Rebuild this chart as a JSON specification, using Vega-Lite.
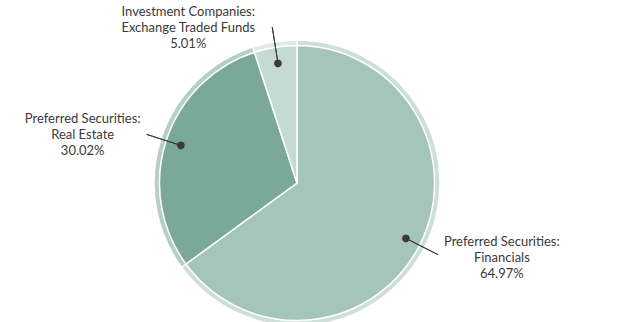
{
  "$schema": "https://vega.github.io/schema/vega-lite/v6.json",
  "width": 594,
  "height": 278,
  "autosize": {"type": "none"},
  "padding": {"left": 0, "top": 44, "right": 24, "bottom": 0},
  "background": "white",
  "config": {"view": {"stroke": null}, "text": {"font": "Lato", "fontSize": 13}},
  "data": {
    "values": [
      {"category": "Preferred Securities: Financials", "name": "Preferred Securities:\nFinancials", "share": 0.6497},
      {"category": "Preferred Securities: Real Estate", "name": "Preferred Securities:\nReal Estate", "share": 0.3002},
      {"category": "Investment Companies: Exchange Traded Funds", "name": "Investment Companies:\nExchange Traded Funds", "share": 0.0501}
    ]
  },
  "transform": [
    {"stack": "share", "groupby": [], "sort": [{"field": "share", "order": "descending"}], "as": ["s0", "s1"]},
    {"fold": ["s0", "s1"], "as": ["edge", "pos"]},
    {"joinaggregate": [{"op": "mean", "field": "pos", "as": "mid"}], "groupby": ["category"]},
    {"filter": "datum.edge == 's0'"}
  ],
  "layer": [
    {
      "mark": {"type": "arc", "innerRadius": 137, "outerRadius": 143, "opacity": 0.55, "stroke": "white", "strokeWidth": 1.5},
      "encoding": {
        "theta": {"field": "s0", "type": "quantitative", "scale": {"domain": [0, 1]}},
        "theta2": {"field": "s1"},
        "color": {"field": "category", "type": "nominal", "legend": null,
          "scale": {"domain": ["Preferred Securities: Financials", "Preferred Securities: Real Estate", "Investment Companies: Exchange Traded Funds"],
                    "range": ["#a6c5ba", "#7aa99a", "#c6dad4"]}}
      }
    },
    {
      "mark": {"type": "arc", "outerRadius": 137.5, "stroke": "white", "strokeWidth": 1.5},
      "encoding": {
        "theta": {"field": "s0", "type": "quantitative", "scale": {"domain": [0, 1]}},
        "theta2": {"field": "s1"},
        "color": {"field": "category", "type": "nominal", "legend": null}
      }
    },
    {
      "mark": {"type": "arc", "innerRadius": 123, "outerRadius": 158, "stroke": "#3a3a3a", "strokeWidth": 1, "fill": null},
      "encoding": {
        "theta": {"field": "mid", "type": "quantitative", "scale": {"domain": [0, 1]}},
        "theta2": {"field": "mid"}
      }
    },
    {
      "mark": {"type": "text", "text": "●", "font": "DejaVu Sans", "fontSize": 10, "radius": 122, "fill": "#3a3a3a", "baseline": "middle", "align": "center"},
      "encoding": {
        "theta": {"field": "mid", "type": "quantitative", "scale": {"domain": [0, 1]}}
      }
    },
    {
      "transform": [{"filter": {"field": "category", "equal": "Preferred Securities: Financials"}}],
      "mark": {"type": "text", "radius": 158, "dx": 64, "dy": -18.6, "align": "center", "baseline": "top", "lineBreak": "\n", "lineHeight": 16, "fill": "#3a3a3a"},
      "encoding": {"theta": {"field": "mid", "type": "quantitative", "scale": {"domain": [0, 1]}}, "text": {"field": "name"}}
    },
    {
      "transform": [{"filter": {"field": "category", "equal": "Preferred Securities: Financials"}}],
      "mark": {"type": "text", "radius": 158, "dx": 64, "dy": 13.4, "align": "center", "baseline": "top", "fill": "#3a3a3a"},
      "encoding": {"theta": {"field": "mid", "type": "quantitative", "scale": {"domain": [0, 1]}}, "text": {"field": "share", "format": ".2%"}}
    },
    {
      "transform": [{"filter": {"field": "category", "equal": "Preferred Securities: Real Estate"}}],
      "mark": {"type": "text", "radius": 158, "dx": -64, "dy": -21.6, "align": "center", "baseline": "top", "lineBreak": "\n", "lineHeight": 16, "fill": "#3a3a3a"},
      "encoding": {"theta": {"field": "mid", "type": "quantitative", "scale": {"domain": [0, 1]}}, "text": {"field": "name"}}
    },
    {
      "transform": [{"filter": {"field": "category", "equal": "Preferred Securities: Real Estate"}}],
      "mark": {"type": "text", "radius": 158, "dx": -64, "dy": 10.4, "align": "center", "baseline": "top", "fill": "#3a3a3a"},
      "encoding": {"theta": {"field": "mid", "type": "quantitative", "scale": {"domain": [0, 1]}}, "text": {"field": "share", "format": ".2%"}}
    },
    {
      "transform": [{"filter": {"field": "category", "equal": "Investment Companies: Exchange Traded Funds"}}],
      "mark": {"type": "text", "radius": 158, "dx": -84, "dy": -21, "align": "center", "baseline": "top", "lineBreak": "\n", "lineHeight": 16, "fill": "#3a3a3a"},
      "encoding": {"theta": {"field": "mid", "type": "quantitative", "scale": {"domain": [0, 1]}}, "text": {"field": "name"}}
    },
    {
      "transform": [{"filter": {"field": "category", "equal": "Investment Companies: Exchange Traded Funds"}}],
      "mark": {"type": "text", "radius": 158, "dx": -84, "dy": 11, "align": "center", "baseline": "top", "fill": "#3a3a3a"},
      "encoding": {"theta": {"field": "mid", "type": "quantitative", "scale": {"domain": [0, 1]}}, "text": {"field": "share", "format": ".2%"}}
    }
  ]
}
